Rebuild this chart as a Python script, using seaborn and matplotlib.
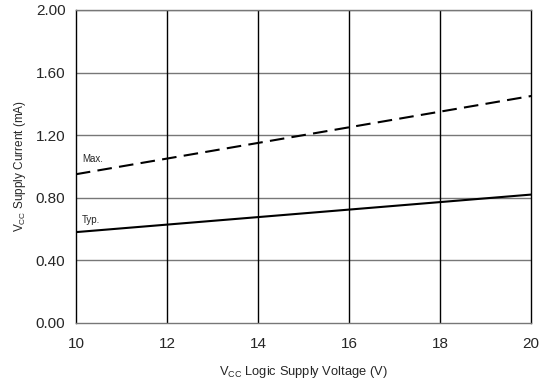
import numpy as np
import pandas as pd
import matplotlib
matplotlib.use("Agg")
import matplotlib.pyplot as plt
import seaborn as sns

# datos
vcc = [10, 20]
i_max = [0.95, 1.45]
i_typ = [0.58, 0.82]

sns.set_style("white")
plt.rcParams['font.family'] = ['Liberation Sans', 'DejaVu Sans']

df = pd.DataFrame({'Vcc': vcc + vcc,
                   'Icc': i_max + i_typ,
                   'Serie': ['Max.'] * 2 + ['Typ.'] * 2})

fig = plt.figure(figsize=(5.42, 3.83), dpi=100)
ax = fig.add_axes([0.140, 0.157, 0.840, 0.817])

sns.lineplot(data=df, x='Vcc', y='Icc', style='Serie', color='black',
             dashes={'Max.': (7, 3.5), 'Typ.': ''}, linewidth=1.5,
             legend=False, ax=ax)

ax.set_xlim(10, 20)
ax.set_ylim(0, 2.0)
ax.set_xticks([10, 12, 14, 16, 18, 20])
ax.set_yticks(np.arange(0, 2.01, 0.4))
ax.set_yticklabels([f'{v:.2f}' for v in np.arange(0, 2.01, 0.4)])

# rejilla: horizontales grises, verticales negras
for y in [0.4, 0.8, 1.2, 1.6, 2.0]:
    ax.axhline(y, color='#777777', linewidth=1.0, zorder=0)
for x in [12, 14, 16, 18]:
    ax.axvline(x, color='black', linewidth=1.0, zorder=0)

for s in ['top', 'bottom']:
    ax.spines[s].set_color('#777777')
for s in ['left', 'right']:
    ax.spines[s].set_color('black')
for s in ax.spines.values():
    s.set_linewidth(1.0)

ax.tick_params(direction='inout', length=5, width=1, labelsize=11)
ax.tick_params(axis='x', pad=8)
ax.tick_params(axis='y', pad=5)

ax.text(10.13, 1.03, 'Max.', fontsize=7)
ax.text(10.13, 0.64, 'Typ.', fontsize=7)

ax.set_xlabel(r'V$_{\mathregular{CC}}$ Logic Supply Voltage (V)', fontsize=9.3, labelpad=9)
ax.set_ylabel(r'V$_{\mathregular{CC}}$ Supply Current (mA)', fontsize=8.5, labelpad=6)

fig.savefig('out.png', dpi=100)
